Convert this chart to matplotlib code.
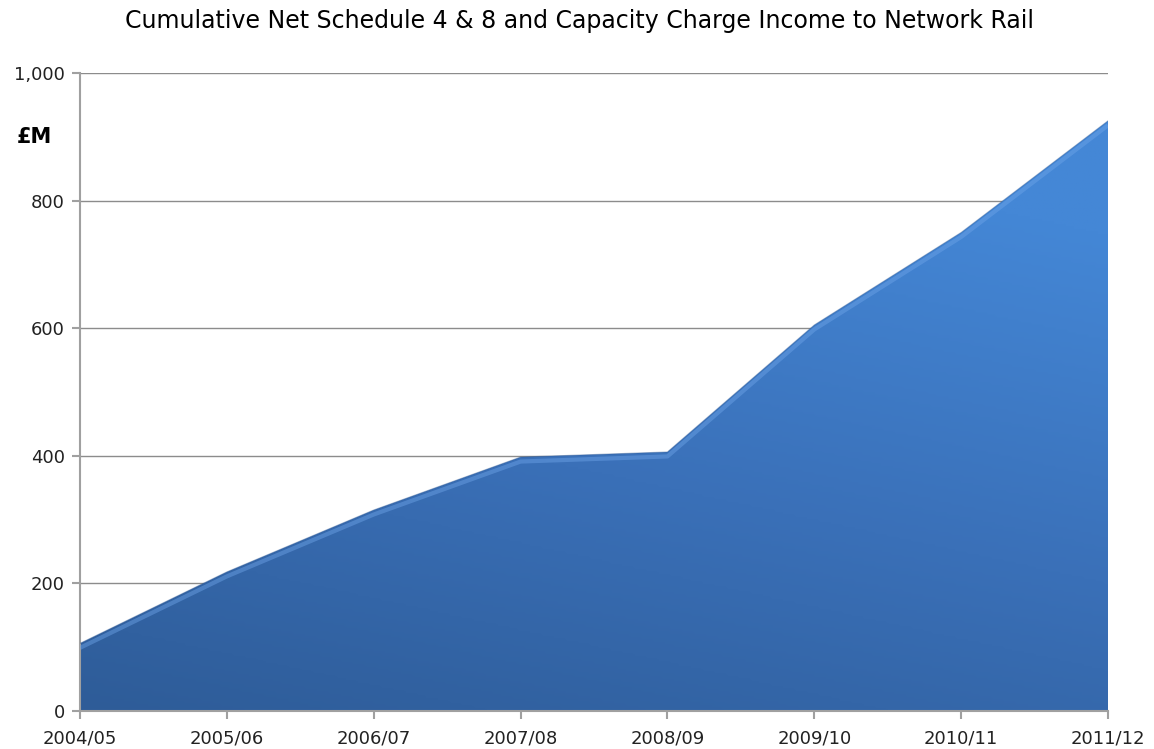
import numpy as np
import matplotlib.pyplot as plt
from matplotlib.colors import LinearSegmentedColormap
from matplotlib.ticker import FuncFormatter

years = ["2004/05", "2005/06", "2006/07", "2007/08", "2008/09", "2009/10", "2010/11", "2011/12"]
income = [106, 218, 315, 398, 406, 605, 750, 925]  # £M, cumulative

fig = plt.figure(figsize=(11.54, 7.49), dpi=100)
ax = fig.add_axes([80 / 1154, 38 / 749, 1028 / 1154, 638 / 749])

x = np.arange(len(years))
ax.set_xlim(0, len(years) - 1)
ax.set_ylim(0, 1000)

# gradient filled area, clipped to the polygon
poly = ax.fill_between(x, income, 0, color="none", lw=0)
cmap = LinearSegmentedColormap.from_list("blu", ["#2e5c98", "#3a70b8", "#4487d6"])
grad = np.linspace(0, 1, 256).reshape(-1, 1) * np.ones((1, 256))
grad = grad + np.linspace(0, 0.35, 256).reshape(1, -1)
img = ax.imshow(grad, cmap=cmap, origin="lower", aspect="auto",
                extent=[0, len(years) - 1, 0, 1000], vmin=0, vmax=1.1, zorder=2)
img.set_clip_path(poly.get_paths()[0], transform=ax.transData)

# subtle bevel along the top edge
ax.plot(x, np.array(income) - 7, color="#6ea4e8", lw=3, alpha=0.45, zorder=3,
        solid_capstyle="butt")
ax.plot(x, income, color="#2b5590", lw=0.8, alpha=0.4, zorder=3)

ax.set_yticks(np.arange(0, 1001, 200))
ax.yaxis.set_major_formatter(FuncFormatter(lambda v, p: f"{int(v):,}"))
ax.set_xticks(x)
ax.set_xticklabels(years)
ax.grid(axis="y", color="#8c8c8c", lw=1)
ax.set_axisbelow(True)

for s in ["top", "right"]:
    ax.spines[s].set_visible(False)
for s in ["left", "bottom"]:
    ax.spines[s].set_color("#a0a0a0")
    ax.spines[s].set_linewidth(1.5)
ax.tick_params(colors="#a0a0a0", width=1.5, length=6, labelcolor="#222222",
               labelsize=13)
ax.tick_params(axis="x", pad=7)
ax.tick_params(axis="y", pad=5)

ax.text(-0.31, 900, "£M", fontsize=15, fontweight="bold", ha="center", va="center",
        transform=ax.transData)
fig.suptitle("Cumulative Net Schedule 4 & 8 and Capacity Charge Income to Network Rail",
             fontsize=17, y=0.988, x=0.502)

fig.savefig("out.png", dpi=100)
